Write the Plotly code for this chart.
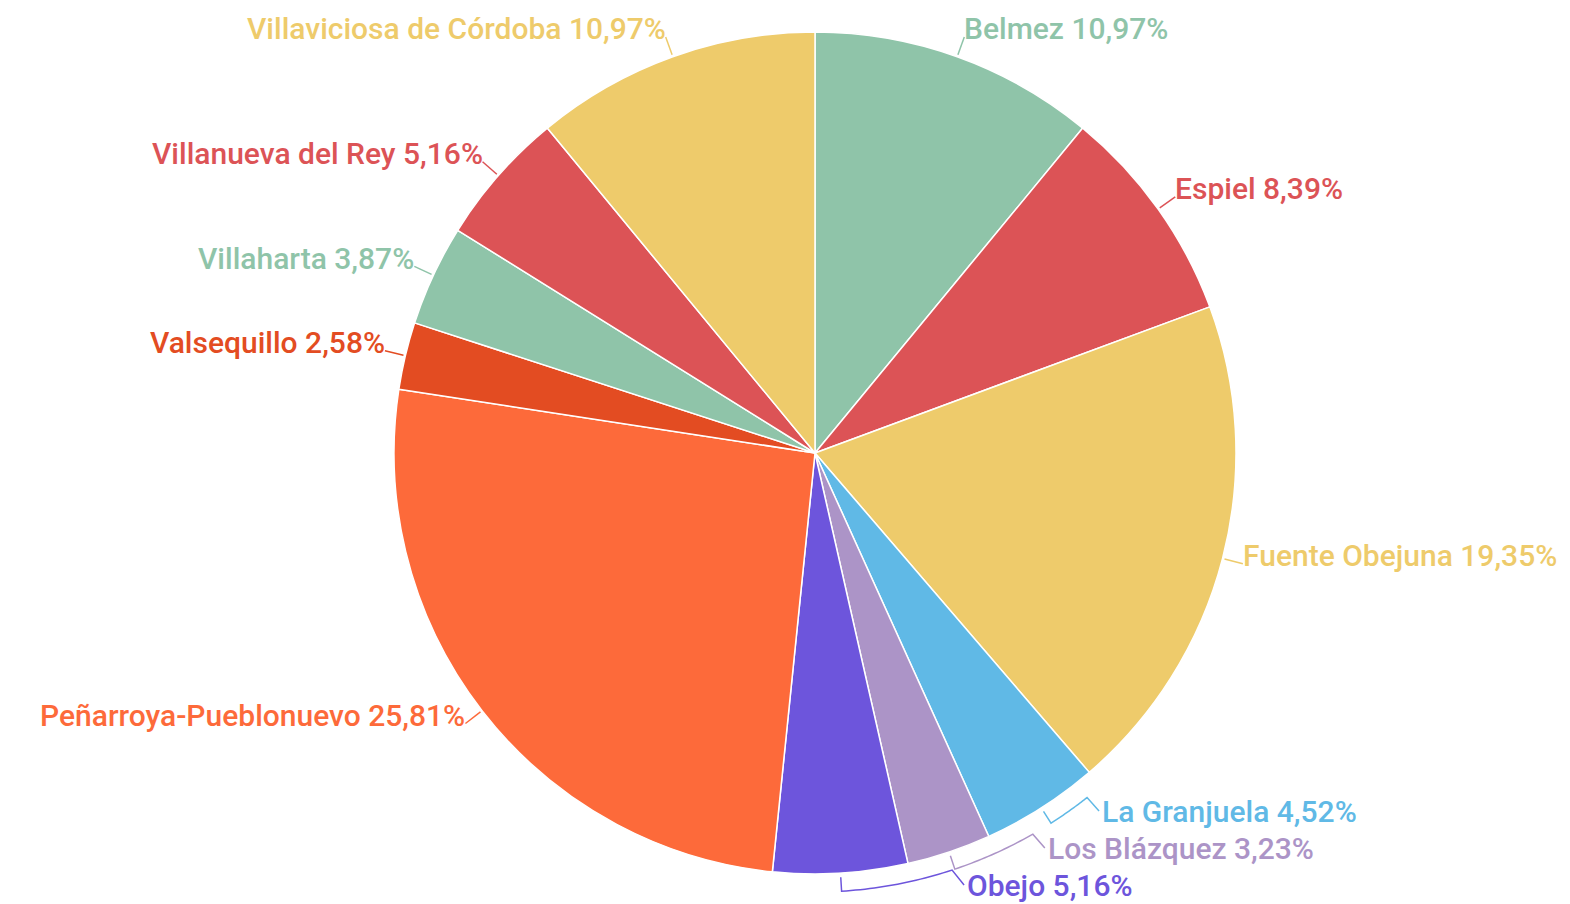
import math
import plotly.graph_objects as go

# ---- data ----
labels = ["Belmez", "Espiel", "Fuente Obejuna", "La Granjuela", "Los Blázquez", "Obejo",
          "Peñarroya-Pueblonuevo", "Valsequillo", "Villaharta", "Villanueva del Rey",
          "Villaviciosa de Córdoba"]
values = [10.97, 8.39, 19.35, 4.52, 3.23, 5.16, 25.81, 2.58, 3.87, 5.16, 10.97]
colors = ["#8fc4a9", "#dc5356", "#eecb6b", "#60b9e6", "#ac94c7", "#6d55dc",
          "#fd6a3a", "#e34c22", "#8fc4a9", "#dc5356", "#eecb6b"]

# ---- layout geometry ----
W, H = 1570, 904
cx, cy, R = 815, 453, 421
FONT = dict(family="Roboto", size=30, weight=500)


def paper(x, y):
    return x / W, 1 - y / H


def pt(theta, r):
    t = math.radians(theta)
    return cx + r * math.sin(t), cy - r * math.cos(t)


total = sum(values)
fig = go.Figure(go.Pie(
    labels=labels, values=values, sort=False, direction="clockwise", rotation=0,
    marker=dict(colors=colors, line=dict(color="white", width=1.5)),
    textinfo="none", hoverinfo="skip", showlegend=False,
    domain=dict(x=[(cx - R) / W, (cx + R) / W], y=[1 - (cy + R) / H, 1 - (cy - R) / H]),
))

annotations, shapes = [], []
cum = 0.0
mids = []
for v in values:
    mids.append(360 * (cum + v / 2) / total)
    cum += v


def add_path(points, color):
    d = ""
    for i, (x, y) in enumerate(points):
        px, py = paper(x, y)
        d += ("M" if i == 0 else " L") + f" {px:.5f},{py:.5f}"
    shapes.append(dict(type="path", path=d, xref="paper", yref="paper",
                       line=dict(color=color, width=1.5)))


def text_of(i):
    return f"{labels[i]} {values[i]:.2f}".replace(".", ",") + "%"


bottom_right = [i for i in range(len(values)) if 135 < mids[i] < 180]
bottom_right.sort(key=lambda i: -mids[i])
Ymax, step, Rt, Ra = 885, 37, 457, R + 18

for i, th in enumerate(mids):
    if i in bottom_right:
        k = bottom_right.index(i)
        yc = Ymax - step * k
        xl = cx + math.sqrt(Rt ** 2 - (yc - cy) ** 2)
        xe = xl - 12
        the = 180 - math.degrees(math.asin((xe - cx) / Ra))
        pts = [pt(th, R + 4)]
        n = 24
        for j in range(n + 1):
            pts.append(pt(th + (the - th) * j / n, Ra))
        pts.append((xl, yc))
        add_path(pts, colors[i])
        ax, ay = paper(xl + 1, yc)
        annotations.append(dict(x=ax, y=ay, xref="paper", yref="paper", text=text_of(i),
                                showarrow=False, xanchor="left", yanchor="middle",
                                font=dict(color=colors[i], **FONT)))
    else:
        s = pt(th, R + 2)
        e = pt(th, R + 21)
        add_path([s, e], colors[i])
        right = math.sin(math.radians(th)) > 0
        ax, ay = paper(e[0] + (-2 if right else 2), e[1] - 8)
        annotations.append(dict(x=ax, y=ay, xref="paper", yref="paper", text=text_of(i),
                                showarrow=False, xanchor="left" if right else "right",
                                yanchor="middle",
                                font=dict(color=colors[i], **FONT)))

fig.update_layout(width=W, height=H, margin=dict(l=0, r=0, t=0, b=0),
                  paper_bgcolor="white", plot_bgcolor="white",
                  annotations=annotations, shapes=shapes)
fig.write_html("out.html", config={"displayModeBar": False},
               post_script="document.body.style.margin='0';document.body.style.padding='0';")
